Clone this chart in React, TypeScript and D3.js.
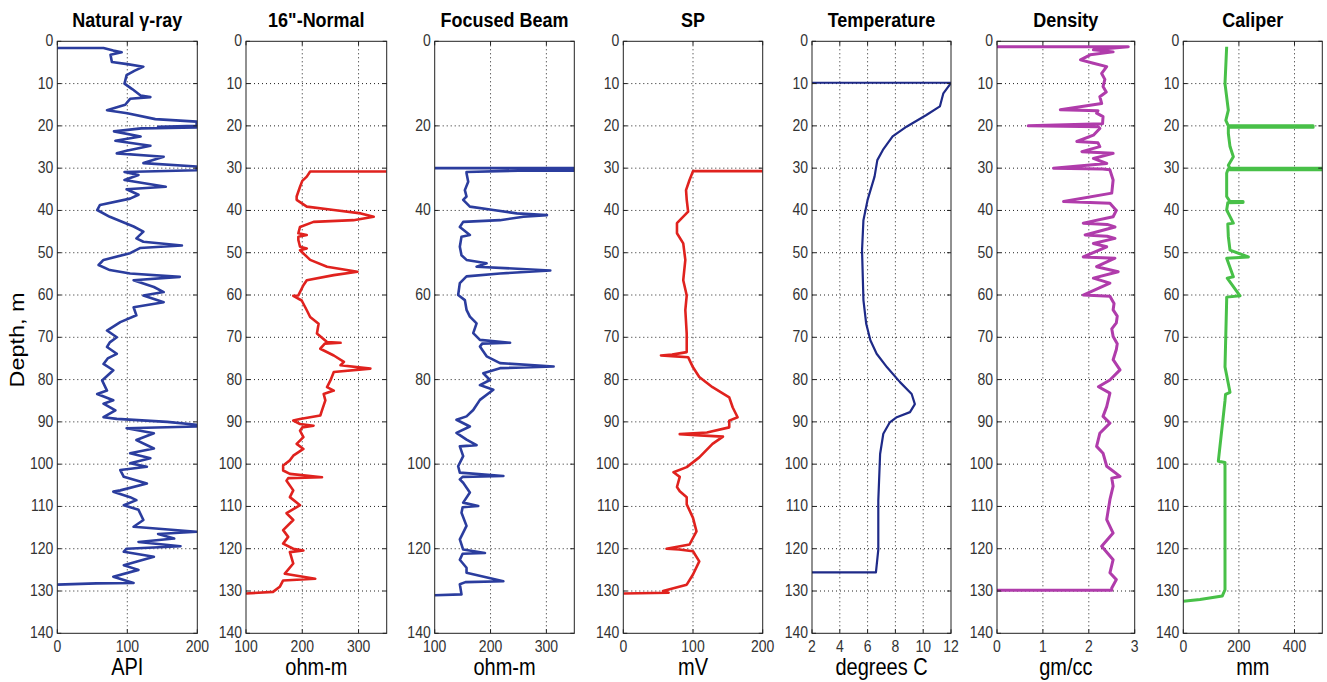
import React from "react";
import * as d3 from "d3";

// ---------- Data: [depth (m), value] ----------
const gammaRay: [number, number][] = [
  [1.6, 0], [1.6, 66], [2.2, 80], [2.6, 92], [3.2, 76], [4.9, 78], [5.4, 100], [6, 123], [7, 110], [8, 99],
  [10, 96], [11.3, 107], [12.8, 119], [13.2, 133], [13.6, 104], [15, 97], [16.3, 71], [17, 100], [18.4, 140],
  [19, 199], [20, 199], [20.2, 144], [20.4, 199], [20.6, 120], [21.3, 81], [22.5, 119], [23.5, 83], [24.7, 133],
  [25.9, 99], [26.5, 85], [27.3, 152], [28.8, 123], [29.6, 199], [30.5, 199], [30.9, 96], [31.6, 116], [32.8, 96],
  [34.4, 155], [35, 99], [36.3, 116], [37.2, 104], [38.7, 61], [39.9, 57], [41.5, 75], [43.8, 109], [45, 123],
  [46.6, 113], [47.4, 123], [48.3, 178], [48.9, 118], [50.1, 104], [51.7, 66], [52.9, 59], [54.1, 75], [54.9, 104],
  [55.7, 175], [56.5, 109], [58.1, 138], [59.3, 152], [60.1, 123], [61.7, 152], [62.9, 109], [64.8, 113], [66.4, 90],
  [68.4, 71], [70, 85], [71.2, 75], [72.3, 71], [73.9, 85], [75, 72], [76.3, 66], [77.8, 80], [80.2, 64], [82.6, 71],
  [83.4, 57], [84.9, 80], [85.7, 66], [87.3, 83], [88.9, 66], [89.3, 85], [90, 157], [90.7, 199], [91.1, 199],
  [91.5, 99], [92.7, 138], [94.3, 113], [96.3, 138], [97.4, 104], [98.6, 133], [99.8, 104], [100.6, 128], [101.4, 90],
  [103, 95], [104.6, 128], [106.2, 90], [106.5, 80], [107.8, 104], [108.5, 113], [109.7, 95], [110.8, 116],
  [113.2, 123], [114.8, 109], [116, 199], [116.5, 144], [117.6, 167], [118.4, 116], [119.4, 176], [120, 99],
  [120.7, 95], [121.9, 138], [123.9, 95], [125, 116], [126.6, 80], [128.1, 109], [128.2, 56], [128.5, 0],
];

const normal16: [number, number][] = [
  [30.8, 350], [30.8, 214], [32, 208], [33, 200], [34.4, 196], [36.7, 190], [37.5, 190], [39.1, 208], [39.9, 256],
  [40.7, 304], [41.5, 327], [42.3, 291], [42.7, 220], [43.9, 196], [45.4, 193], [45.8, 208], [46.2, 193], [47, 193],
  [48.6, 196], [49, 208], [49.4, 196], [51.7, 214], [53.3, 244], [54.5, 298], [55.3, 256], [56.5, 208], [57.7, 202],
  [60.1, 193], [60.2, 184], [61.3, 199], [63.6, 208], [65.2, 214], [66.8, 229], [69.1, 226], [71.1, 244], [71.3, 268],
  [71.5, 240], [72.7, 232], [74.3, 256], [75.8, 274], [76.6, 268], [77.4, 321], [78.2, 256], [80.2, 250], [81.8, 244],
  [82.6, 256], [83.4, 238], [84.9, 241], [87.3, 235], [88.5, 232], [89.3, 196], [89.7, 184], [90.5, 196], [90.9, 220],
  [91.3, 200], [92.1, 196], [93.6, 202], [95.2, 190], [96.4, 202], [98, 184], [99.1, 178], [100.3, 166], [101.5, 166],
  [102.3, 178], [103.1, 235], [103.3, 175], [103.9, 172], [106.2, 184], [107.8, 178], [109.7, 196], [111.6, 172],
  [113.2, 184], [115.6, 166], [117.2, 175], [118.8, 166], [120, 184], [120.4, 202], [120.8, 178], [123.5, 184],
  [125.9, 169], [127.1, 223], [127.5, 166], [129, 160], [130.2, 148], [130.6, 100],
];

const focusedBeam: [number, number][] = [
  [30, 100], [30, 350], [30.6, 350], [30.6, 250], [30.9, 157], [31.2, 157], [33.2, 160], [35.2, 154], [36.7, 157],
  [37.5, 151], [39.1, 163], [39.9, 205], [40.7, 247], [41.1, 301], [41.5, 259], [42.3, 217], [42.7, 151], [43.9, 145],
  [45.8, 163], [46.2, 148], [48.6, 145], [50.6, 148], [51.7, 157], [52.5, 193], [53.3, 175], [54.2, 307], [54.9, 217],
  [55.6, 157], [57.2, 145], [60, 142], [61.2, 154], [63.5, 157], [65.1, 163], [66.7, 175], [69, 169], [70.6, 181],
  [71.3, 235], [71.5, 185], [72.2, 181], [74.5, 193], [76.1, 217], [76.9, 313], [77.3, 217], [78.5, 187], [80.1, 199],
  [81.3, 181], [82.4, 205], [84.8, 181], [87.2, 169], [88.7, 157], [89.5, 139], [91.1, 163], [92.6, 139], [94.2, 157],
  [95.5, 175], [95.8, 145], [98.1, 151], [100.5, 142], [102, 145], [102.8, 223], [103, 150], [103.6, 145], [104.4, 151],
  [106.7, 163], [109.1, 151], [109.9, 178], [110.2, 150], [111.5, 148], [114.6, 157], [117.8, 145], [120.2, 151],
  [121, 190], [121.2, 150], [122.6, 145], [124.5, 157], [125.7, 157], [127.7, 223], [127.9, 155], [128.4, 145],
  [130.8, 148], [131, 100],
];

const spontaneousPotential: [number, number][] = [
  [30.7, 200], [30.7, 100], [32.8, 95], [35.2, 90], [37.5, 91], [40.3, 93], [43, 77], [45.4, 77], [47.8, 86],
  [51.7, 89], [56.5, 86], [60.1, 91], [63.6, 89], [69.2, 91], [73.5, 91], [74.1, 70], [74.3, 54], [74.5, 75],
  [74.7, 93], [77.1, 100], [79.4, 109], [81.8, 128], [84.2, 152], [86.6, 157], [88.9, 164], [89.7, 152], [91.3, 152],
  [92.5, 120], [92.9, 81], [93.2, 110], [93.5, 143], [95.2, 128], [98.4, 109], [100.7, 91], [101.9, 72], [103, 81],
  [105.4, 77], [106.4, 81], [107.8, 91], [109.5, 91], [112.7, 100], [115.9, 105], [119, 95], [120, 62], [120.2, 80],
  [120.6, 100], [123, 109], [126.1, 100], [128.5, 91], [130, 57], [130.4, 65], [130.6, 0],
];

const temperature: [number, number][] = [
  [9.8, 2], [9.8, 12], [10.3, 11.9], [12.3, 11.45], [15.4, 11.2], [17.5, 10.2], [20.2, 8.8], [22.5, 7.8],
  [25.7, 7.1], [28.1, 6.7], [32, 6.5], [37.5, 6.0], [42.3, 5.7], [49.4, 5.6], [61.2, 5.7], [66.8, 5.9], [70.7, 6.2],
  [73.9, 6.65], [77.1, 7.4], [80.6, 8.33], [83.4, 9.17], [85.8, 9.4], [87.7, 9.05], [88.9, 8.1], [90.1, 7.6],
  [92.8, 7.13], [97.6, 6.9], [108.6, 6.77], [120.2, 6.77], [125.6, 6.6], [125.6, 2],
];

const density: [number, number][] = [
  [1.3, 0], [1.3, 2.86], [2, 2.1], [2.5, 2.53], [3.2, 2.03], [4.4, 1.82], [5.2, 2.1], [6, 2.39], [7.6, 2.28],
  [9, 2.35], [10.7, 2.31], [12, 2.38], [13.1, 2.24], [14.7, 2.28], [16.2, 1.38], [16.4, 2.2], [17, 2.17], [17.8, 2.31],
  [19.5, 2.3], [20, 0.68], [20.2, 2.2], [20.6, 2.24], [22.2, 2.1], [23.7, 1.74], [24, 2.2], [24.9, 2.24], [26.1, 1.85],
  [26.5, 2.53], [27.7, 2.1], [28.9, 2.39], [30, 1.23], [30.2, 2.3], [30.4, 2.46], [32.8, 2.53], [35.9, 2.5],
  [37.9, 1.45], [38.3, 2.46], [40, 2.6], [41.5, 2.53], [43, 1.88], [43.3, 2.4], [43.9, 2.57], [45.8, 1.92], [46.1, 2.4],
  [46.6, 2.57], [47.8, 2.1], [48.6, 2.39], [51, 1.88], [51.3, 2.57], [53.3, 2.17], [54.5, 2.64], [56, 2.1], [57.2, 2.46],
  [60, 1.88], [60.3, 2.46], [62, 2.55], [63.5, 2.53], [65, 2.62], [66.6, 2.6], [68, 2.5], [69.8, 2.53], [71.5, 2.62],
  [72.9, 2.6], [75.3, 2.53], [77.7, 2.68], [80.1, 2.46], [81.7, 2.21], [83.2, 2.46], [86.4, 2.39], [88.7, 2.31],
  [90.3, 2.46], [92.7, 2.24], [95.8, 2.17], [97.4, 2.31], [100.5, 2.39], [102.9, 2.68], [103.3, 2.5], [105.2, 2.53],
  [108.4, 2.46], [113.1, 2.39], [116.3, 2.53], [119.4, 2.28], [122.6, 2.53], [125.7, 2.46], [127.3, 2.6], [129.3, 2.5],
  [129.8, 2.5], [129.8, 0],
];

const caliper: [number, number][] = [
  [1.3, 156], [10, 150], [16.3, 162], [18.7, 153], [20, 162], [20, 467], [20.3, 467], [20.3, 162], [21.8, 162],
  [24.9, 168], [27.3, 180], [29.3, 162], [30, 168], [30, 510], [30.4, 510], [30.4, 160], [31.2, 156], [36.7, 156],
  [37.9, 168], [37.9, 215], [38.1, 215], [38.2, 160], [39.9, 156], [43, 180], [43.2, 160], [46.2, 162], [49.4, 168],
  [51, 234], [51.3, 156], [55.7, 180], [56, 158], [60.2, 204], [60.5, 156], [61.2, 156], [77, 150], [83, 168],
  [83.5, 152], [85, 150], [99.3, 126], [99.6, 150], [100.9, 150], [104.4, 150], [120.2, 150], [129.7, 150],
  [131.2, 140], [131.6, 100], [132, 60], [132.4, 0],
];

const titles = ["Natural γ-ray", "16\"-Normal", "Focused Beam", "SP", "Temperature", "Density", "Caliper"];
const units = ["API", "ohm-m", "ohm-m", "mV", "degrees C", "gm/cc", "mm"];
const xDomains: [number, number][] = [[0, 200], [100, 350], [100, 350], [0, 200], [2, 12], [0, 3], [0, 500]];
const xTickValues: number[][] = [
  [0, 100, 200], [100, 200, 300], [100, 200, 300], [0, 100, 200], [2, 4, 6, 8, 10, 12], [0, 1, 2, 3], [0, 200, 400],
];
const depthTicks10 = [0, 10, 20, 30, 40, 50, 60, 70, 80, 90, 100, 110, 120, 130, 140];
const depthTicks20 = [0, 20, 40, 60, 80, 100, 120, 140];
const yTickValues: number[][] = [depthTicks10, depthTicks10, depthTicks20, depthTicks10, depthTicks10, depthTicks10, depthTicks10];
const traces = [gammaRay, normal16, focusedBeam, spontaneousPotential, temperature, density, caliper];
const colors = ["#2b3d9e", "#e0221e", "#2b3d9e", "#e0221e", "#1e2a88", "#b03cab", "#48c048"];
const strokeWidths = [2.6, 2.6, 2.6, 2.6, 2.2, 3, 3];

// ---------- Layout ----------
const W = 1327;
const H = 682;
const panelLeft = [57.3, 246, 434.7, 623.3, 812, 997, 1183.3];
const panelWidth = [140, 140.7, 139.6, 139.4, 139, 137.7, 139];
const top = 41.3;
const bottom = 633.3;
const tickFont = "'Liberation Sans Narrow', 'Arial Narrow', 'Liberation Sans', Arial, sans-serif";
const mainFont = "'Liberation Sans', Arial, Helvetica, sans-serif";

const yScale = d3.scaleLinear().domain([0, 140]).range([top, bottom]);

function Panel({ i }: { i: number }) {
  const x0 = panelLeft[i];
  const x1 = x0 + panelWidth[i];
  const xScale = d3.scaleLinear().domain(xDomains[i]).range([x0, x1]);
  const line = d3
    .line<[number, number]>()
    .x((d) => xScale(d[1]))
    .y((d) => yScale(d[0]));
  const xt = xTickValues[i];
  const yt = yTickValues[i];
  const [dmin, dmax] = xDomains[i];
  const cx = (x0 + x1) / 2;
  const clipId = `clip-${i}`;
  return (
    <g>
      <defs>
        <clipPath id={clipId}>
          <rect x={x0} y={top} width={x1 - x0} height={bottom - top} />
        </clipPath>
      </defs>
      <rect x={x0} y={top} width={x1 - x0} height={bottom - top} fill="#fff" />
      {/* grid */}
      {xt
        .filter((v) => v !== dmin && v !== dmax)
        .map((v) => (
          <line key={`gx${v}`} x1={xScale(v)} x2={xScale(v)} y1={top} y2={bottom} stroke="#222" strokeWidth={1} strokeDasharray="1,3" />
        ))}
      {yt
        .filter((v) => v !== 0 && v !== 140)
        .map((v) => (
          <line key={`gy${v}`} x1={x0} x2={x1} y1={yScale(v)} y2={yScale(v)} stroke="#222" strokeWidth={1} strokeDasharray="1,3" />
        ))}
      {/* trace */}
      <path d={line(traces[i]) || ""} fill="none" stroke={colors[i]} strokeWidth={strokeWidths[i]} strokeLinejoin="round" clipPath={`url(#${clipId})`} />
      {/* ticks */}
      {yt.map((v) => (
        <g key={`ty${v}`}>
          <line x1={x0} x2={x0 + 4} y1={yScale(v)} y2={yScale(v)} stroke="#222" />
          <line x1={x1} x2={x1 - 4} y1={yScale(v)} y2={yScale(v)} stroke="#222" />
        </g>
      ))}
      {xt.map((v) => (
        <g key={`tx${v}`}>
          <line x1={xScale(v)} x2={xScale(v)} y1={top} y2={top + 4} stroke="#222" />
          <line x1={xScale(v)} x2={xScale(v)} y1={bottom} y2={bottom - 4} stroke="#222" />
        </g>
      ))}
      <rect x={x0} y={top} width={x1 - x0} height={bottom - top} fill="none" stroke="#222" strokeWidth={1} />
      {/* tick labels */}
      {yt.map((v) => (
        <text
          key={`ly${v}`}
          transform={`translate(${x0 - 4},${yScale(v) + 5}) scale(1,1.18)`}
          textAnchor="end"
          fontFamily={tickFont}
          fontSize={14}
          fill="#333"
        >
          {v}
        </text>
      ))}
      {xt.map((v) => (
        <text
          key={`lx${v}`}
          transform={`translate(${xScale(v)},${bottom + 18.5}) scale(1,1.18)`}
          textAnchor="middle"
          fontFamily={tickFont}
          fontSize={14}
          fill="#333"
        >
          {v}
        </text>
      ))}
      {/* title */}
      <text
        transform={`translate(${cx},${27}) scale(1,1.15)`}
        textAnchor="middle"
        fontFamily={mainFont}
        fontWeight="bold"
        fontSize={18}
        fill="#000"
      >
        {titles[i]}
      </text>
      {/* unit */}
      <text
        transform={`translate(${cx},${675}) scale(1,1.17)`}
        textAnchor="middle"
        fontFamily={mainFont}
        fontSize={20}
        fill="#000"
      >
        {units[i]}
      </text>
    </g>
  );
}

export default function App() {
  return (
    <svg width={W} height={H} style={{ position: "absolute", left: 0, top: 0, background: "#fff" }}>
      <rect x={0} y={0} width={W} height={H} fill="#fff" />
      {titles.map((_, i) => (
        <Panel key={i} i={i} />
      ))}
      <text
        transform={`translate(${23.5},${340}) rotate(-90) scale(1.17,1)`}
        textAnchor="middle"
        fontFamily={mainFont}
        fontSize={20}
        fill="#000"
      >
        Depth, m
      </text>
    </svg>
  );
}
